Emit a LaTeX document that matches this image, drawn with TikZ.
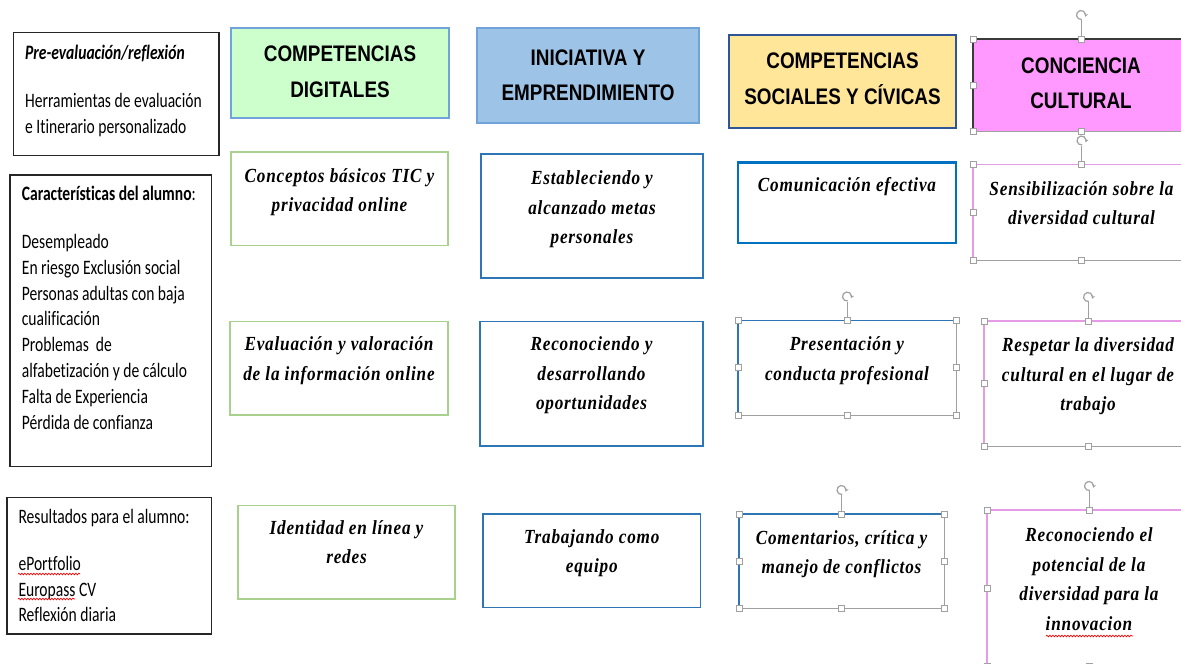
\documentclass[tikz,border=0pt]{standalone}
\usepackage{fontspec}
\setmainfont{Liberation Serif}
\newfontfamily\calib[FakeStretch=0.76,Ligatures=NoCommon]{Carlito}
\newfontfamily\hdrf[FakeStretch=0.84]{Liberation Sans}
\newfontfamily\bodyf[FakeStretch=0.86,LetterSpace=4.0]{Liberation Serif}
\usetikzlibrary{decorations.pathmorphing,arrows.meta}
\definecolor{hgreen}{HTML}{CCFFCC}
\definecolor{hblue}{HTML}{9DC3E6}
\definecolor{hyellow}{HTML}{FFE699}
\definecolor{hpink}{HTML}{FF99FF}
\definecolor{hbord}{HTML}{6FA3DA}
\definecolor{ybord}{HTML}{2F5597}
\definecolor{gbord}{HTML}{A9D18E}
\definecolor{bbord}{HTML}{2E75B6}
\definecolor{cbord}{HTML}{0070C0}
\definecolor{pbord}{HTML}{E59BE5}
\definecolor{selgray}{HTML}{A0A0A0}
\definecolor{lbord}{HTML}{262626}
\definecolor{dkbord}{HTML}{3A3A3A}
\newcommand\tsh{\rule{0pt}{24.85pt}}
\newcommand\tsb{\rule{0pt}{20.65pt}}
\newcommand\tsl{\rule{0pt}{18.06pt}}
\tikzset{
  frame/.style={rectangle, inner sep=0pt, outer sep=0pt},
  hdrtxt/.style={anchor=north, inner sep=0pt, align=center,
    font=\hdrf\fontsize{22.5}{35.5}\selectfont\bfseries},
  bodytxt/.style={anchor=north, inner sep=0pt, align=center,
    font=\bodyf\fontsize{20}{29.5}\selectfont\bfseries\itshape},
  lefttxt/.style={anchor=north west, inner sep=0pt, align=left,
    font=\calib\fontsize{20.5}{25.8}\selectfont},
  leftbox/.style={frame, draw=lbord, line width=1.2pt},
  greenbox/.style={frame, draw=gbord, line width=1.5pt},
  bluebox/.style={frame, draw=bbord, line width=1.5pt},
  handle/.style={draw=selgray, fill=white, line width=0.8pt},
  selline/.style={draw=selgray, line width=1pt},
  rotstyle/.style={draw=selgray, line width=1.2pt, -{Stealth[length=3pt,width=4pt]}},
  wavy/.style={draw=red, line width=0.7pt, decorate, decoration={snake, amplitude=0.8pt, segment length=3pt}}
}
\newcommand\selhandle[1]{\draw[handle] (#1) ++(-3,-3) rectangle ++(6,6);}
\newcommand\rothandle[1]{%
  \draw[selline] (#1.north) -- ++(0,-19);
  \draw[rotstyle] (#1.north) ++(0,-24) ++(80:4.5) arc[start angle=80, end angle=380, radius=4.5];}
\begin{document}
\begin{tikzpicture}[x=1pt,y=-1pt]
\useasboundingbox (0,0) rectangle (1181,664);
\clip (0,0) rectangle (1181,664);
\fill[white] (0,0) rectangle (1181,664);

% ---------- left column ----------
\node[leftbox, minimum width=205.5, minimum height=123] (p) at (116.25,94) {};
\node[lefttxt] (pt) at (25,41.24) {\tsl\textbf{\textit{Pre-evaluación/reflexión}}\\[22.2pt]Herramientas de evaluación\\e Itinerario personalizado};

\node[leftbox, minimum width=201.5, minimum height=291.5] (ch) at (110.75,320.75) {};
\node[lefttxt] (cht) at (21.7,181.94) {\tsl\textbf{Características del alumno}:\\[22.5pt]Desempleado\\En riesgo Exclusión social\\Personas adultas con baja\\cualificación\\Problemas\ \ de\\alfabetización y de cálculo\\Falta de Experiencia\\Pérdida de confianza};

\node[leftbox, minimum width=204.5, minimum height=136.5] (r) at (109.25,565.75) {};
\node[lefttxt] (rt) at (18.3,505.24) {\tsl Resultados para el alumno:\\[20.9pt]ePortfolio\\Europass CV\\Reflexión diaria};
\draw[wavy] (18,574) -- (80,574);
\draw[wavy] (18,599) -- (75,599);

% ---------- headers ----------
\node[frame, draw=hbord, line width=2pt, fill=hgreen, minimum width=218, minimum height=90] (hd) at (340,73) {};
\node[hdrtxt] (hdt) at (340,36.85) {\tsh COMPETENCIAS\\DIGITALES};

\node[frame, draw=hbord, line width=2pt, fill=hblue, minimum width=222, minimum height=95] (hi) at (588,75.5) {};
\node[hdrtxt] (hit) at (588,40.15) {\tsh INICIATIVA Y\\EMPRENDIMIENTO};

\node[frame, draw=ybord, line width=1.5pt, fill=hyellow, minimum width=227, minimum height=93] (hs) at (842.5,81.5) {};
\node[hdrtxt] (hst) at (842.5,43.45) {\tsh COMPETENCIAS\\SOCIALES Y CÍVICAS};

\node[frame, fill=hpink, minimum width=216, minimum height=92] (hc) at (1081,85) {};
\draw[dkbord, line width=2.5pt] (hc.south west) -- (hc.north west) -- (hc.north east);
\draw[selline] (hc.south west) -- (hc.south east);
\node[hdrtxt] (hct) at (1081,48.15) {\tsh CONCIENCIA\\CULTURAL};

% ---------- column 1 ----------
\node[greenbox, minimum width=217, minimum height=93.5] (d2) at (339.5,198.75) {};
\node[bodytxt] (d2t) at (339.5,161.35) {\tsb Conceptos básicos TIC y\\privacidad online};
\node[greenbox, minimum width=218, minimum height=93.5] (d3) at (339,368.25) {};
\node[bodytxt] (d3t) at (339,330.05) {\tsb Evaluación y valoración\\de la información online};
\node[greenbox, minimum width=217, minimum height=93.5] (d4) at (346.5,552.25) {};
\node[bodytxt] (d4t) at (346.5,513.35) {\tsb Identidad en línea y\\redes};

% ---------- column 2 ----------
\node[bluebox, minimum width=222, minimum height=124] (e2) at (592,216) {};
\node[bodytxt] (e2t) at (592,163.65) {\tsb Estableciendo y\\alcanzado metas\\personales};
\node[bluebox, minimum width=223, minimum height=124.5] (e3) at (591.5,383.75) {};
\node[bodytxt] (e3t) at (591.5,330.05) {\tsb Reconociendo y\\desarrollando\\oportunidades};
\node[bluebox, minimum width=217.5, minimum height=93.5] (e4) at (591.75,560.75) {};
\node[bodytxt] (e4t) at (591.75,522.35) {\tsb Trabajando como\\equipo};

% ---------- column 3 ----------
\node[frame, draw=cbord, line width=2.5pt, minimum width=218, minimum height=80.5] (s2) at (847,202.75) {};
\node[bodytxt] (s2t) at (847,171.05) {\tsb Comunicación efectiva};

\node[frame, minimum width=218, minimum height=94.5] (s3) at (847,367.75) {};
\draw[bbord, line width=1.5pt] (s3.south west) -- (s3.north west) -- (s3.north east);
\draw[selline] (s3.north east) -- (s3.south east) -- (s3.south west);
\node[bodytxt] (s3t) at (847,330.05) {\tsb Presentación y\\conducta profesional};

\node[frame, minimum width=205, minimum height=94] (s4) at (841.5,561) {};
\draw[bbord, line width=1.5pt] (s4.south west) -- (s4.north west) -- (s4.north east);
\draw[selline] (s4.north east) -- (s4.south east) -- (s4.south west);
\node[bodytxt] (s4t) at (841.5,523.35) {\tsb Comentarios, crítica y\\manejo de conflictos};

% ---------- column 4 ----------
\node[frame, minimum width=217, minimum height=95.5] (c2) at (1081.5,212.25) {};
\draw[pbord, line width=1.5pt] (c2.south west) -- (c2.north west) -- (c2.north east);
\draw[selline] (c2.south west) -- (c2.south east);
\node[bodytxt] (c2t) at (1081.5,174.35) {\tsb Sensibilización sobre la\\diversidad cultural};

\node[frame, minimum width=208, minimum height=125] (c3) at (1088,383.5) {};
\draw[pbord, line width=1.5pt] (c3.south west) -- (c3.north west) -- (c3.north east);
\draw[selline] (c3.south west) -- (c3.south east);
\node[bodytxt] (c3t) at (1088,331.05) {\tsb Respetar la diversidad\\cultural en el lugar de\\trabajo};

\node[frame, minimum width=204, minimum height=156] (c4) at (1089,588) {};
\draw[pbord, line width=1.5pt] (c4.south west) -- (c4.north west) -- (c4.north east);
\draw[selline] (c4.south west) -- (c4.south east);
\node[bodytxt] (c4t) at (1089,521.05) {\tsb Reconociendo el\\potencial de la\\diversidad para la\\innovacion};
\draw[wavy] (1046,636) -- (1133,636);

% ---------- selection handles ----------
\rothandle{s3}
\foreach \a in {north west,north,north east,west,east,south west,south,south east} {\selhandle{s3.\a}}
\rothandle{s4}
\foreach \a in {north west,north,north east,west,east,south west,south,south east} {\selhandle{s4.\a}}
\rothandle{hc}
\foreach \a in {north west,north,west,south west,south} {\selhandle{hc.\a}}
\rothandle{c2}
\foreach \a in {north west,north,west,south west,south} {\selhandle{c2.\a}}
\rothandle{c3}
\foreach \a in {north west,north,west,south west,south} {\selhandle{c3.\a}}
\rothandle{c4}
\foreach \a in {north west,north,west,south west,south} {\selhandle{c4.\a}}
\end{tikzpicture}
\end{document}
